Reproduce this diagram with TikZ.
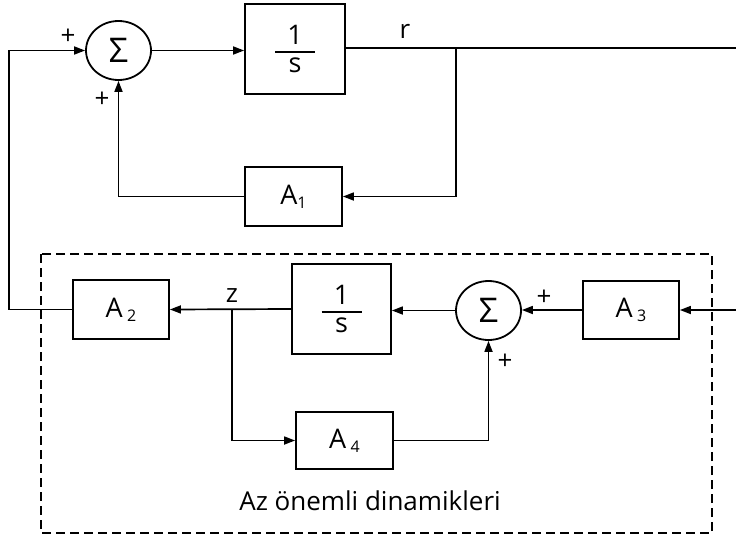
\documentclass[tikz,border=0pt]{standalone}
\usepackage{fontspec}
\setmainfont{Open Sans}
\usetikzlibrary{shapes.geometric,arrows.meta}
\newcommand\oneovers{\vbox{\hbox to 40pt{\hss 1\hss}\kern 6pt\hrule height 1.8pt\kern 5pt\hbox to 40pt{\hss s\hss}}}
\newcommand\subx[1]{{\fontsize{16}{16}\selectfont\raisebox{-4pt}{#1}}}
\tikzset{
  blk/.style={draw, line width=1.8pt, inner sep=0pt, font=\fontsize{27}{27}\selectfont},
  sumnode/.style={draw, ellipse, line width=1.8pt, minimum width=65pt, minimum height=59pt, inner sep=0pt, font=\fontsize{34}{34}\selectfont},
  wire/.style={line width=1.7pt},
  arr/.style={wire, -{Triangle[length=11pt,width=8pt]}},
  lbl/.style={font=\fontsize{26}{26}\selectfont, inner sep=0pt},
  grp/.style={draw, line width=1.4pt, dash pattern=on 9pt off 5pt}
}
\begin{document}
\begin{tikzpicture}[x=1pt,y=-1pt,font=\fontsize{26}{26}\selectfont]
\useasboundingbox (0,0) rectangle (736,538);
% group box
\draw[grp] (41,254) rectangle (712,533);
\node[lbl] (grplbl) at (370,501) {Az önemli dinamikleri};
% top loop
\node[sumnode] (sum1) at (118.5,50.5) {Σ};
\node[blk, minimum width=100pt, minimum height=90pt] (int1) at (295,49) {\oneovers};
\node[blk, minimum width=97pt, minimum height=59pt] (A1) at (293.5,196.5) {A\subx{1}};
% bottom loop
\node[blk, minimum width=96pt, minimum height=59pt] (A2) at (121,309.5) {A\,\subx{2}};
\node[blk, minimum width=99pt, minimum height=90pt] (int2) at (341.5,309) {\oneovers};
\node[blk, minimum width=97pt, minimum height=57pt] (A4) at (344.5,440.5) {A\,\subx{4}};
\node[sumnode] (sum2) at (488.5,310.5) {Σ};
\node[blk, minimum width=96pt, minimum height=58pt] (A3) at (631,310) {A\,\subx{3}};
% coordinates
\coordinate (rend) at (736,48);
\coordinate (br1) at (456,48);
\coordinate (lc) at (9,309.5);
\coordinate (inR) at (736,310);
\coordinate (br2) at (232,309.5);
% top connectors
\draw[arr] (sum1.east) -- (sum1.east -| int1.west);
\draw[wire] (int1.east |- rend) -- (rend);
\draw[arr] (br1) |- (A1.east);
\draw[arr] (A1.west) -| (sum1.south);
\draw[arr] (A2.west) -- (lc) |- (sum1.west);
% bottom connectors
\draw[arr] (int2.west) -- (A2.east);
\draw[arr] (sum2.west) -- (sum2.west -| int2.east);
\draw[arr] (A3.west) -- (A3.west -| sum2.east);
\draw[arr] (inR) -- (A3.east);
\draw[arr] (br2) |- (A4.west);
\draw[arr] (A4.east) -| (sum2.south);
% labels
\node[lbl] (rlbl) at (405,31) {r};
\node[lbl] (zlbl) at (232,296) {z};
\node[lbl] (p1) at (68,37) {+};
\node[lbl] (p2) at (102,100) {+};
\node[lbl] (p3) at (544,298) {+};
\node[lbl] (p4) at (505,362) {+};
\end{tikzpicture}
\end{document}
